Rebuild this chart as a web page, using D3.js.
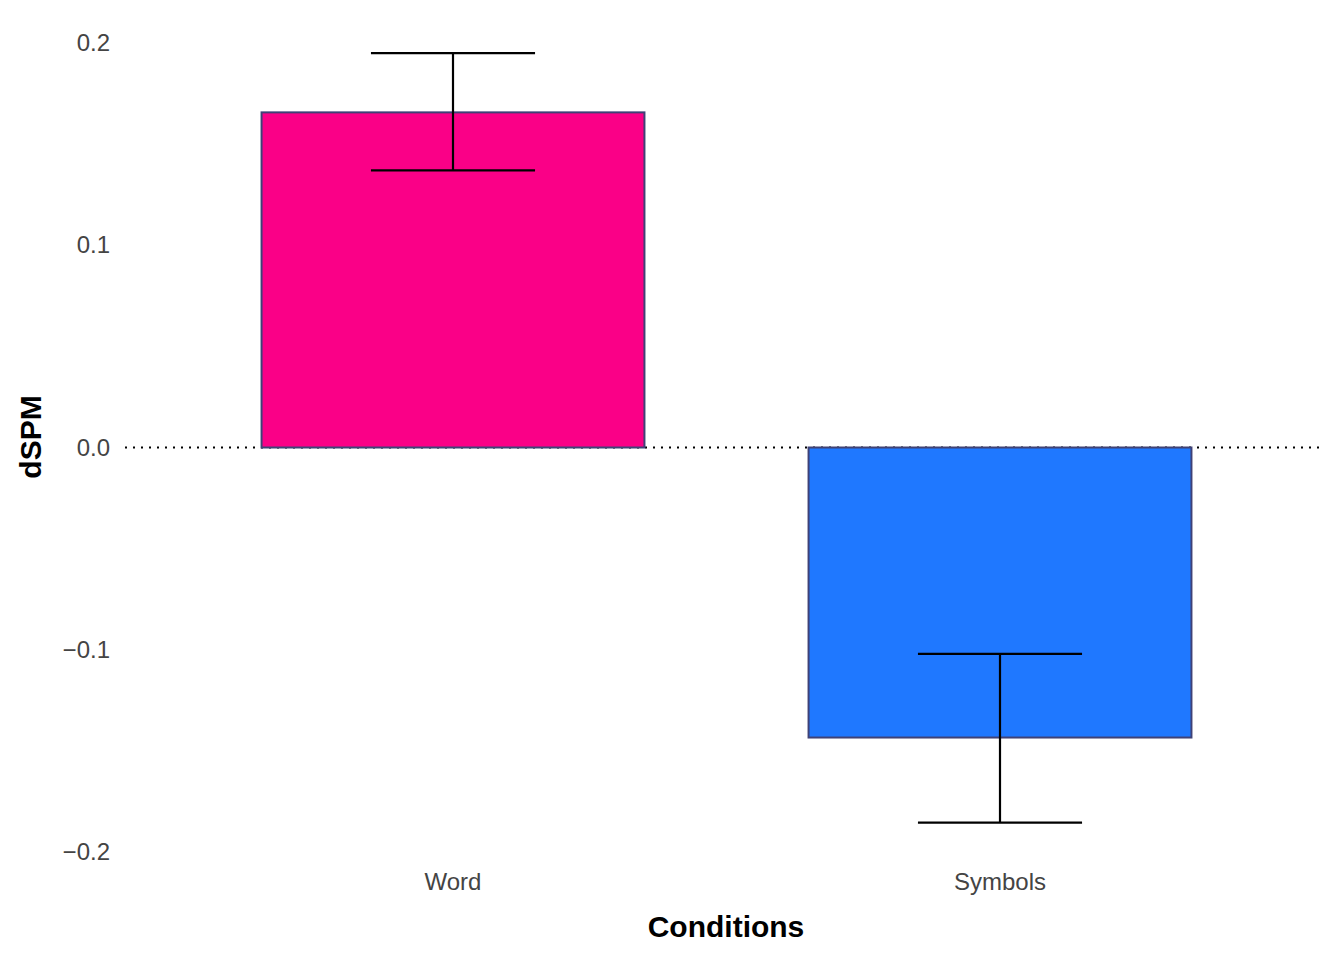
<!DOCTYPE html>
<html><head><meta charset="utf-8">
<script src="https://cdn.jsdelivr.net/npm/d3@7"></script>
<style>body{margin:0;background:#fff}</style>
</head><body>
<script>
var categories = ['Word', 'Symbols']
var means = [0.1657, -0.1434]
var errLow = [0.137, -0.1855]
var errHigh = [0.195, -0.102]
var colors = ['#FA0087', '#1F78FF']
var yTicks = [-0.2, -0.1, 0.0, 0.1, 0.2]

var W = 1344, H = 960
var svg = d3.select('body').append('svg').attr('width', W).attr('height', H)
  .style('font-family', 'Arial, Liberation Sans, sans-serif')

var x = d3.scaleBand().domain(categories).range([179.5, 1273.5]).paddingInner(0).paddingOuter(0)
var y = d3.scaleLinear().domain([-0.2, 0.2]).range([852, 43])

// zero line
svg.append('line').attr('x1', 125).attr('x2', 1325)
  .attr('y1', y(0)).attr('y2', y(0))
  .attr('stroke', '#000').attr('stroke-width', 2).attr('stroke-dasharray', '2,6')

// bars
var bw = x.bandwidth() * 0.7
svg.selectAll('rect.bar').data(categories).enter().append('rect')
  .attr('x', function (d) { return x(d) + (x.bandwidth() - bw) / 2 })
  .attr('width', bw)
  .attr('y', function (d, i) { return y(Math.max(0, means[i])) })
  .attr('height', function (d, i) { return Math.abs(y(means[i]) - y(0)) })
  .attr('fill', function (d, i) { return colors[i] })
  .attr('stroke', '#3F4277').attr('stroke-width', 2)

// error bars
var cw = x.bandwidth() * 0.3
var g = svg.selectAll('g.err').data(categories).enter().append('g')
  .attr('stroke', '#000').attr('stroke-width', 2.2)
g.append('line')
  .attr('x1', function (d) { return x(d) + x.bandwidth() / 2 })
  .attr('x2', function (d) { return x(d) + x.bandwidth() / 2 })
  .attr('y1', function (d, i) { return y(errLow[i]) })
  .attr('y2', function (d, i) { return y(errHigh[i]) })
;[errLow, errHigh].forEach(function (arr) {
  g.append('line')
    .attr('x1', function (d) { return x(d) + x.bandwidth() / 2 - cw / 2 })
    .attr('x2', function (d) { return x(d) + x.bandwidth() / 2 + cw / 2 })
    .attr('y1', function (d, i) { return y(arr[i]) })
    .attr('y2', function (d, i) { return y(arr[i]) })
})

// axes (no lines, labels only)
var yAxis = svg.append('g').attr('transform', 'translate(110,0)')
  .call(d3.axisLeft(y).tickValues(yTicks).tickFormat(d3.format('.1f')).tickSize(0))
yAxis.select('.domain').remove()
yAxis.selectAll('text').attr('font-size', 24).attr('fill', '#444').attr('x', 0)
  .style('font-family', 'Arial, Liberation Sans, sans-serif')

var xAxis = svg.append('g').attr('transform', 'translate(0,870)')
  .call(d3.axisBottom(x).tickSize(0))
xAxis.select('.domain').remove()
xAxis.selectAll('text').attr('font-size', 24).attr('fill', '#444').attr('dy', '0.71em')
  .style('font-family', 'Arial, Liberation Sans, sans-serif')

svg.append('text').attr('x', 726).attr('y', 937).attr('text-anchor', 'middle')
  .attr('font-size', 30).attr('font-weight', 'bold').text('Conditions')
svg.append('text').attr('transform', 'translate(41,437) rotate(-90)').attr('text-anchor', 'middle')
  .attr('font-size', 30).attr('font-weight', 'bold').text('dSPM')
</script>
</body></html>
